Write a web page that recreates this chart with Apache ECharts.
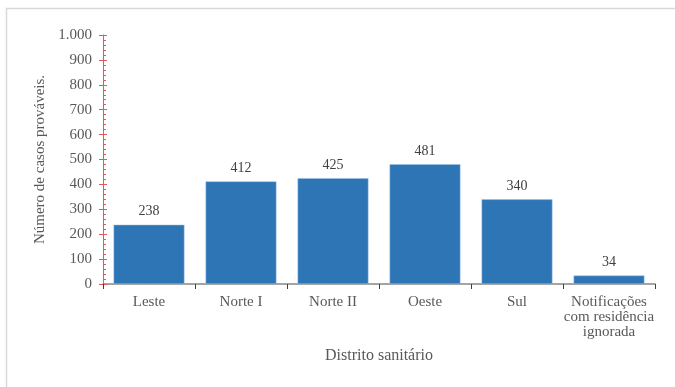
<!DOCTYPE html>
<html><head><meta charset="utf-8">
<script src="https://cdn.jsdelivr.net/npm/echarts@6/dist/echarts.min.js"></script>
<style>html,body{margin:0;padding:0;background:#fff}#c{width:675px;height:387px}</style>
</head><body><div id="c"></div>
<script>
var categories = ['Leste', 'Norte I', 'Norte II', 'Oeste', 'Sul', 'Notificações\ncom residência\nignorada'];
var values = [238, 412, 425, 481, 340, 34];
var yTicks = [0, 100, 200, 300, 400, 500, 600, 700, 800, 900, 1000];

var font = '"Liberation Serif", "Times New Roman", serif';
var chart = echarts.init(document.getElementById('c'));
chart.setOption({
  animation: false,
  graphic: [{type: 'rect', shape: {x: 6.5, y: 8.5, width: 700, height: 400}, style: {fill: 'none', stroke: '#d9d9d9', lineWidth: 1.5}}],
  grid: {left: 103, right: 20, top: 35, bottom: 103, containLabel: false},
  xAxis: [{
    type: 'category', data: categories,
    axisLine: {lineStyle: {color: '#868686', width: 1.5}},
    axisTick: {show: true, length: 5, inside: false, lineStyle: {color: '#404040'}},
    axisLabel: {fontFamily: font, fontSize: 15, color: '#595959', margin: 11, lineHeight: 15, interval: 0},
    name: 'Distrito sanitário', nameLocation: 'middle', nameGap: 64,
    nameTextStyle: {fontFamily: font, fontSize: 16, color: '#595959'}
  }, {
    type: 'category', data: categories, position: 'bottom', offset: 0,
    axisLine: {show: false},
    axisTick: {show: true, alignWithLabel: true, inside: true, length: 4, lineStyle: {color: '#404040'}},
    axisLabel: {show: false}
  }],
  yAxis: [{
    type: 'value', min: 0, max: 1000, interval: 100,
    axisLine: {show: true, lineStyle: {color: '#e05a5a', width: 1}},
    axisTick: {show: true, length: 4, lineStyle: {color: '#e05a5a'}},
    splitLine: {show: false},
    axisLabel: {fontFamily: font, fontSize: 15, color: '#595959', margin: 11,
      formatter: function (v) { return v >= 1000 ? (v / 1000).toFixed(0) + '.' + String(v % 1000).padStart(3, '0') : String(v); }},
    name: 'Número de casos prováveis.', nameLocation: 'middle', nameGap: 49, nameRotate: 90,
    nameTextStyle: {fontFamily: font, fontSize: 15, color: '#595959'}
  }, {
    type: 'value', min: 0, max: 1000, interval: 100, position: 'left',
    axisLine: {show: false},
    axisTick: {show: true, inside: true, length: 4, lineStyle: {color: '#e05a5a'}},
    minorTick: {show: true, splitNumber: 5, length: 3, lineStyle: {color: '#e05a5a'}},
    splitLine: {show: false}, axisLabel: {show: false}
  }],
  series: [{
    type: 'bar', data: values, barCategoryGap: '23%',
    itemStyle: {color: '#2E75B6', borderColor: '#9dc3e6', borderWidth: 0.5},
    label: {show: true, position: 'top', distance: 6, fontFamily: font, fontSize: 14, color: '#404040'}
  }]
});
</script></body></html>
